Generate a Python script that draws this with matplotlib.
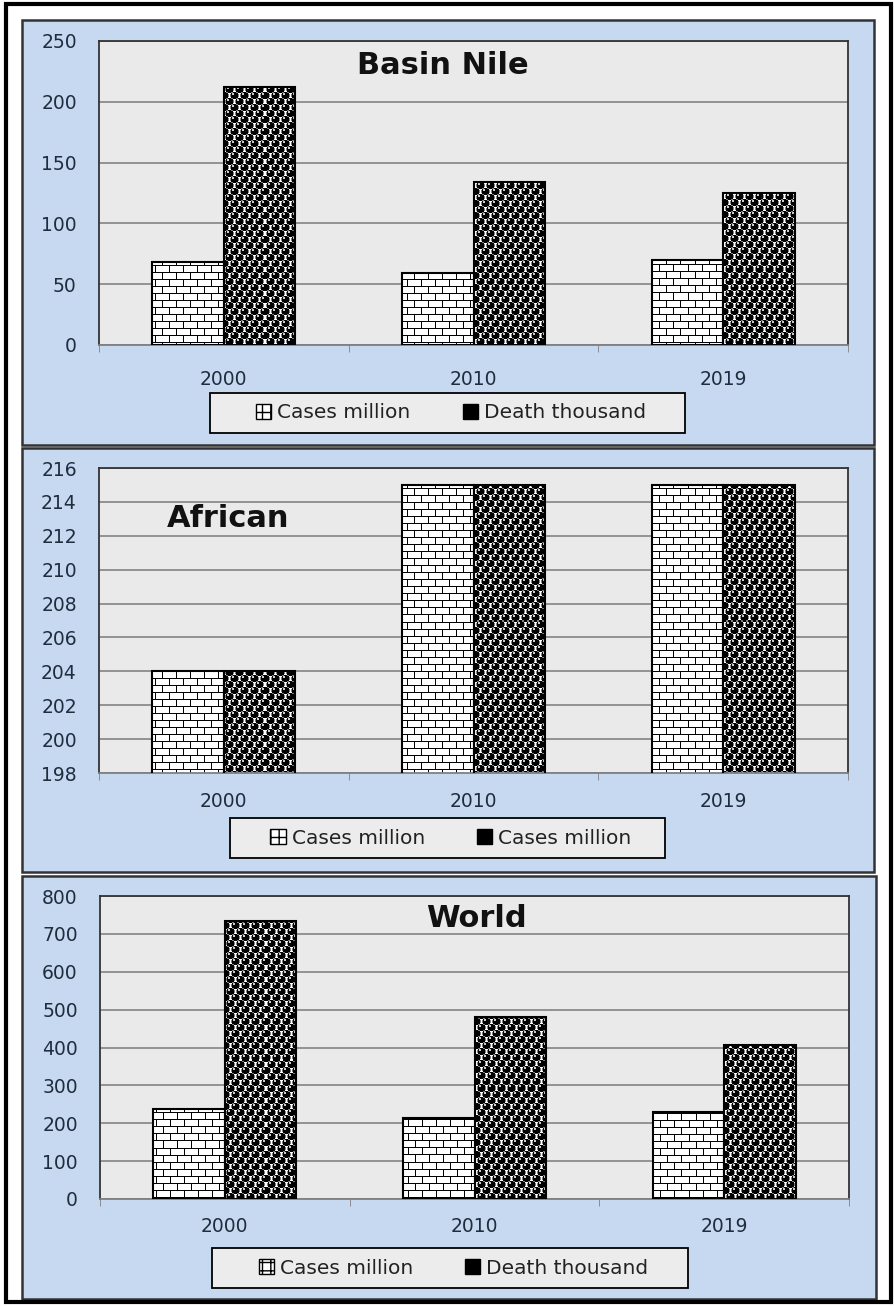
import matplotlib
matplotlib.use("Agg")
import matplotlib.pyplot as plt
import numpy as np
from matplotlib.patches import Rectangle, Patch

# data
years = ["2000", "2010", "2019"]
nile_cases = [68, 59, 70]
nile_death = [212, 134, 125]
africa_cases = [204, 215, 215]
africa_death = [204, 215, 215]
world_cases = [238, 214, 229]
world_death = [734, 481, 407]

W, H = 894, 1306
fig = plt.figure(figsize=(W / 100, H / 100), dpi=100)
fig.patch.set_facecolor("white")

PANEL_BG = "#c6d9f1"
PLOT_BG = "#eaeaea"
TICK_COL = "#1f2d3d"


def px_rect(x0, y0, x1, y1):
    """figure fraction rectangle from pixel corners"""
    return [x0 / W, 1 - y1 / H, (x1 - x0) / W, (y1 - y0) / H]


def brick_texture(h, w):
    yy, xx = np.mgrid[0:h, 0:w]
    tex = np.ones((h, w))
    row = yy // 7
    tex[yy % 7 == 0] = 0
    off = (row % 2) * 7
    tex[(xx + off) % 14 == 0] = 0
    return tex


def ball_texture(h, w):
    yy, xx = np.mgrid[0:h, 0:w].astype(float)
    tex = np.ones((h, w))
    for cx, cy in [(0, 0), (5, 6)]:
        dx = (xx - cx + 5) % 10 - 5
        dy = (yy - cy + 6) % 12 - 6
        d = np.sqrt(dx ** 2 + (dy * 1.15) ** 2)
        tex = np.where(d < 3.9, 0.0, tex)
        tex = np.where((d >= 3.9) & (d < 4.5), np.minimum(tex, 0.5), tex)
        hl = np.sqrt((dx + 1.3) ** 2 + (dy + 1.5) ** 2)
        tex = np.where(hl < 0.9, 0.8, tex)
    return tex


def draw_panel(rect_px, plot_px, cases, death, ylim, yticks, title, tpos,
               tha, labels, leg_px, xpad):
    # blue chart background
    fig.patches.append(Rectangle((rect_px[0] / W, 1 - rect_px[3] / H),
                                 (rect_px[2] - rect_px[0]) / W,
                                 (rect_px[3] - rect_px[1]) / H,
                                 transform=fig.transFigure, facecolor=PANEL_BG,
                                 edgecolor="#333333", lw=1.8, zorder=-5))
    ax = fig.add_axes(px_rect(*plot_px))
    ax.set_facecolor(PLOT_BG)
    x = np.arange(len(years))
    w = 0.286
    b1 = ax.bar(x - w / 2, cases, width=w, facecolor="none", edgecolor="black",
                lw=1.5, zorder=3)
    b2 = ax.bar(x + w / 2, death, width=w, facecolor="none", edgecolor="black",
                lw=1.5, zorder=3)
    ax.set_xlim(-0.5, 2.5)
    ax.set_ylim(*ylim)

    pw = int(round(plot_px[2] - plot_px[0]))
    ph = int(round(plot_px[3] - plot_px[1]))
    ext = (-0.5, 2.5, ylim[0], ylim[1])
    for bars, tex in [(b1, brick_texture(ph, pw)), (b2, ball_texture(ph, pw))]:
        for p in bars:
            im = ax.imshow(tex, cmap="gray", vmin=0, vmax=1, extent=ext,
                           origin="upper", interpolation="nearest",
                           aspect="auto", zorder=2)
            im.set_clip_path(p)
    ax.set_xlim(-0.5, 2.5)
    ax.set_ylim(*ylim)

    ax.set_yticks(yticks)
    ax.yaxis.grid(True, color="#7a7a7a", lw=1.1)
    ax.set_axisbelow(True)
    ax.set_xticks(x)
    ax.set_xticklabels(years)
    ax.set_xticks([-0.5, 0.5, 1.5, 2.5], minor=True)
    ax.tick_params(axis="x", which="major", length=0, pad=xpad, labelsize=13.5,
                   labelcolor=TICK_COL)
    ax.tick_params(axis="x", which="minor", length=5, color="#808080",
                   direction="out")
    ax.tick_params(axis="y", length=0, pad=16, labelsize=13.5,
                   labelcolor=TICK_COL)
    for s in ["top", "left", "right"]:
        ax.spines[s].set_color("#333333")
        ax.spines[s].set_linewidth(1.3)
    ax.spines["bottom"].set_color("#808080")
    ax.spines["bottom"].set_linewidth(1.3)

    ax.text(tpos[0], tpos[1], title, transform=ax.transAxes, ha=tha,
            va="center", fontsize=22, fontweight="bold", family="DejaVu Sans",
            color="#111111", zorder=5)

    # legend box
    lx0, ly0, lx1, ly1 = leg_px
    fig.patches.append(Rectangle((lx0 / W, 1 - ly1 / H), (lx1 - lx0) / W,
                                 (ly1 - ly0) / H, transform=fig.transFigure,
                                 facecolor="#ececec", edgecolor="black",
                                 lw=1.3, zorder=-1))
    handles = [Patch(facecolor="white", edgecolor="black", hatch="++"),
               Patch(facecolor="black", edgecolor="black")]
    leg = ax.legend(handles, labels, loc="center", ncol=2,
                    bbox_to_anchor=((lx0 + lx1) / 2 / W + 0.004,
                                    1 - (ly0 + ly1) / 2 / H),
                    bbox_transform=fig.transFigure, fontsize=14.5,
                    frameon=False, handlelength=0.75, handleheight=0.75,
                    handletextpad=0.3, columnspacing=2.6, borderpad=0.2)
    for t in leg.get_texts():
        t.set_color("#222222")
    return ax


draw_panel((22, 20, 874, 445), (99, 41, 848, 345), nile_cases, nile_death,
           (0, 250), [0, 50, 100, 150, 200, 250], "Basin Nile", (0.345, 0.92),
           "left", ["Cases million", "Death thousand"], (210, 393, 685, 433),
           18)

draw_panel((22, 448, 874, 872), (99, 468, 848, 773), africa_cases,
           africa_death, (198, 216), list(range(198, 217, 2)), "African",
           (0.09, 0.833), "left", ["Cases million", "Cases million"],
           (230, 818, 665, 858), 14)

draw_panel((22, 876, 876, 1299), (100, 896, 849, 1199), world_cases,
           world_death, (0, 800), list(range(0, 801, 100)), "World",
           (0.502, 0.927), "center", ["Cases million", "Death thousand"],
           (212, 1248, 688, 1288), 13)

# outer black frame
fig.patches.append(Rectangle((6 / W, 4 / H), 885 / W, 1298 / H,
                             transform=fig.transFigure, facecolor="none",
                             edgecolor="black", lw=3, zorder=10))

fig.savefig("out.png", dpi=100)
